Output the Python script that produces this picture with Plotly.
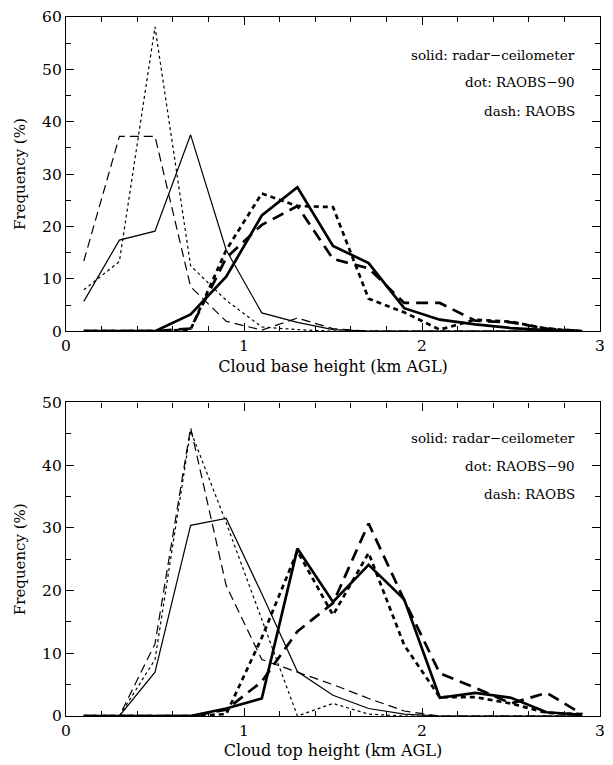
import plotly.graph_objects as go

# Bin centres (km AGL), 0.2 km bins
heights = [0.1, 0.3, 0.5, 0.7, 0.9, 1.1, 1.3, 1.5, 1.7, 1.9, 2.1, 2.3, 2.5, 2.7, 2.9]

# Cloud base height frequencies (%) -- thin: lower layer, thick: upper layer
base_radar_thin = [5.7, 17.4, 19.1, 37.5, 15.5, 3.5, 1.7, 0.3, 0, 0, 0, 0, 0, 0, 0]
base_raobs90_thin = [7.9, 13.3, 58.1, 12.5, 5.9, 0.8, 0.3, 0, 0, 0, 0, 0, 0, 0, 0]
base_raobs_thin = [13.4, 37.2, 37.2, 8.5, 1.9, 0.2, 2.5, 0.5, 0, 0, 0, 0, 0, 0, 0]
base_radar_thick = [0, 0, 0, 3.2, 10.4, 22.1, 27.5, 16.3, 13.0, 4.4, 2.2, 1.3, 0.6, 0.2, 0]
base_raobs90_thick = [0, 0, 0, 0.3, 15.5, 26.3, 23.9, 23.7, 6.2, 3.6, 0.3, 2.2, 1.8, 0.5, 0]
base_raobs_thick = [0, 0, 0, 0.5, 14.0, 20.3, 23.9, 13.8, 12.0, 5.4, 5.4, 2.0, 1.7, 0.5, 0]

# Cloud top height frequencies (%)
top_radar_thin = [0, 0, 7.0, 30.4, 31.5, 19.5, 7.1, 3.3, 1.2, 0.3, 0, 0, 0, 0, 0]
top_raobs90_thin = [0, 0, 9.0, 45.5, 30.8, 15.3, 0, 2.0, 0.3, 0, 0, 0, 0, 0, 0]
top_raobs_thin = [0, 0, 11.5, 46.0, 20.8, 9.0, 7.0, 5.0, 2.8, 0.8, 0, 0, 0, 0, 0]
top_radar_thick = [0, 0, 0, 0, 1.2, 2.8, 26.7, 18.2, 24.1, 18.6, 2.9, 3.7, 2.9, 0.6, 0.2]
top_raobs90_thick = [0, 0, 0, 0, 0.3, 12.5, 26.3, 16.1, 26.0, 11.3, 3.0, 3.0, 2.0, 0.5, 0.3]
top_raobs_thick = [0, 0, 0, 0, 1.0, 5.5, 13.5, 18.0, 30.7, 18.5, 6.8, 4.5, 2.0, 3.7, 0.3]

legend_lines = ["solid: radar\u2212ceilometer", "dot: RAOBS\u221290", "dash: RAOBS"]

FONT = "DejaVu Serif"
THIN, THICK = 1.2, 2.7
styles = {
    "thin_solid": dict(width=THIN, dash="solid"),
    "thin_dot": dict(width=THIN, dash="3px,3px"),
    "thin_dash": dict(width=THIN, dash="9px,5px"),
    "thick_solid": dict(width=THICK, dash="solid"),
    "thick_dot": dict(width=THICK, dash="5px,4px"),
    "thick_dash": dict(width=THICK, dash="12px,7px"),
}

fig = go.Figure()


def add_panel(series, xa, ya):
    for key, vals in series:
        fig.add_trace(go.Scatter(
            x=heights, y=vals, mode="lines", xaxis=xa, yaxis=ya,
            line=dict(color="black", **styles[key]), showlegend=False,
            hoverinfo="skip"))


add_panel([
    ("thin_solid", base_radar_thin), ("thin_dot", base_raobs90_thin),
    ("thin_dash", base_raobs_thin), ("thick_solid", base_radar_thick),
    ("thick_dot", base_raobs90_thick), ("thick_dash", base_raobs_thick),
], "x", "y")
add_panel([
    ("thin_solid", top_radar_thin), ("thin_dot", top_raobs90_thin),
    ("thin_dash", top_raobs_thin), ("thick_solid", top_radar_thick),
    ("thick_dot", top_raobs90_thick), ("thick_dash", top_raobs_thick),
], "x2", "y2")

axis_common = dict(
    showline=True, linecolor="black", linewidth=1.2, mirror="allticks",
    ticks="inside", ticklen=8, tickwidth=1.2, tickcolor="black",
    showgrid=False, zeroline=False,
    tickfont=dict(family=FONT, size=15.5, color="black"),
)
xcommon = dict(axis_common, range=[0, 3], dtick=1, tick0=0,
               minor=dict(ticks="inside", ticklen=5, dtick=0.2, tick0=0,
                          tickcolor="black", tickwidth=1.2))


def ycommon(top):
    return dict(axis_common, range=[0, top], dtick=10, tick0=0,
                minor=dict(ticks="inside", ticklen=5, dtick=5, tick0=0,
                           tickcolor="black", tickwidth=1.2),
                title=dict(text="Frequency (%)", standoff=12,
                           font=dict(family=FONT, size=15, color="black")))


fig.update_layout(
    width=613, height=765,
    margin=dict(l=66, r=8, t=14, b=48),
    paper_bgcolor="white", plot_bgcolor="white",
    xaxis=dict(xcommon, anchor="y", domain=[0, 1],
               title=dict(text="Cloud base height (km AGL)", standoff=6,
                          font=dict(family=FONT, size=16, color="black"))),
    yaxis=dict(ycommon(60), anchor="x", domain=[0.5505, 1]),
    xaxis2=dict(xcommon, anchor="y2", domain=[0, 1],
                title=dict(text="Cloud top height (km AGL)", standoff=6,
                           font=dict(family=FONT, size=16, color="black"))),
    yaxis2=dict(ycommon(50), anchor="x2", domain=[0, 0.4485]),
)

# Line-style key in the upper right of each panel
for xref, yref, ys in (("x", "y", [52.8, 47.5, 42.1]),
                       ("x2", "y2", [44.4, 39.9, 35.4])):
    for txt, yv in zip(legend_lines, ys):
        fig.add_annotation(
            text=txt, xref=xref, yref=yref,
            x=2.87, y=yv, xanchor="right", yanchor="middle", showarrow=False,
            font=dict(family=FONT, size=13.5, color="black"))

fig.write_html("out.html")
